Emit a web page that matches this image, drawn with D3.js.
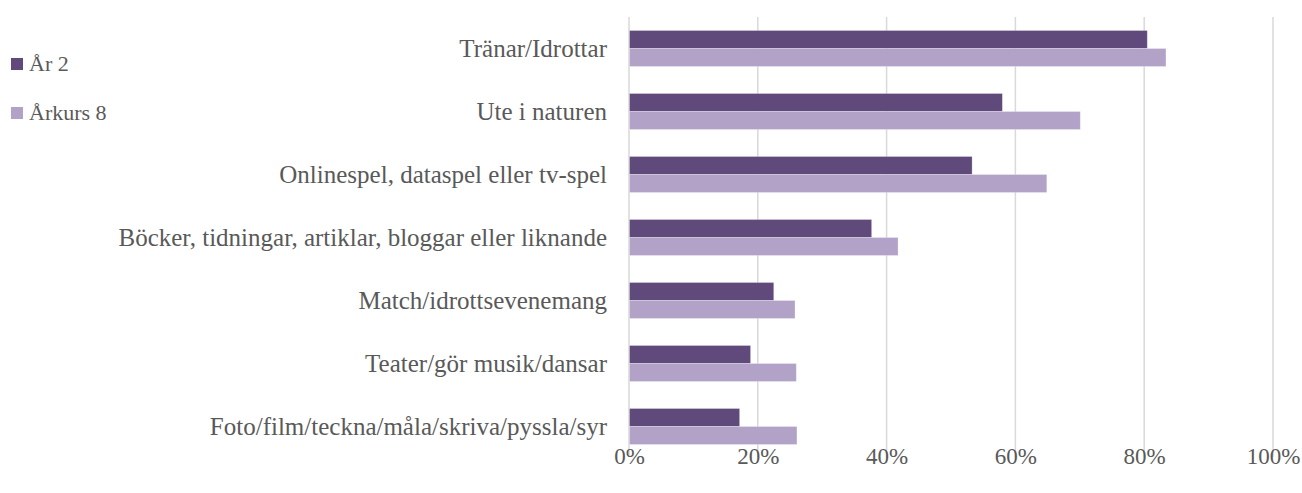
<!DOCTYPE html>
<html>
<head>
<meta charset="utf-8">
<script src="https://cdn.jsdelivr.net/npm/d3@7"></script>
<style>
  body { margin: 0; background: #fff; }
  svg text { font-family: "Liberation Serif", "Times New Roman", serif; fill: #595959; }
</style>
</head>
<body>
<svg id="chart" width="1302" height="493"></svg>
<script>
// data
const categories = [
  "Tränar/Idrottar",
  "Ute i naturen",
  "Onlinespel, dataspel eller tv-spel",
  "Böcker, tidningar, artiklar, bloggar eller liknande",
  "Match/idrottsevenemang",
  "Teater/gör musik/dansar",
  "Foto/film/teckna/måla/skriva/pyssla/syr "
];
const seriesNames = ["År 2", "Årkurs 8"];
const seriesColors = ["#604a7b", "#b3a2c7"];
const ar2 = [0.804, 0.579, 0.532, 0.376, 0.224, 0.188, 0.171];
const arkurs8 = [0.833, 0.700, 0.648, 0.417, 0.257, 0.259, 0.260];
const xTicks = [0, 0.2, 0.4, 0.6, 0.8, 1.0];

const svg = d3.select('#chart');

// scales
const x = d3.scaleLinear().domain([0, 1]).range([629, 1273]);
const y = d3.scaleBand().domain(categories).range([17, 458]).paddingInner(0).paddingOuter(0);
const barH = 18;

// gridlines
svg.append('g').selectAll('line').data(xTicks).enter().append('line')
  .attr('x1', d => x(d)).attr('x2', d => x(d))
  .attr('y1', 17).attr('y2', 457)
  .style('stroke', '#d9d9d9')
  .attr('stroke-width', 1.5);

// bars
const rows = categories.map((c, i) => ({ cat: c, vals: [ar2[i], arkurs8[i]] }));
const groups = svg.append('g').selectAll('g').data(rows).enter().append('g')
  .attr('transform', d => `translate(0,${y(d.cat) + y.bandwidth() / 2 - barH})`);

groups.selectAll('rect').data(d => d.vals).enter().append('rect')
  .attr('x', x(0) + 0.5)
  .attr('y', (d, i) => i * barH)
  .attr('width', d => x(d) - x(0))
  .attr('height', barH)
  .style('fill', (d, i) => seriesColors[i])
  .style('stroke', '#ffffff')
  .style('stroke-opacity', 0.35)
  .attr('stroke-width', 0.75);

// category labels
const yAxis = d3.axisLeft(y).tickSize(0).tickPadding(22);
const ya = svg.append('g').attr('transform', `translate(${x(0)},0)`).call(yAxis);
ya.select('.domain').remove();
ya.selectAll('text')
  .attr('dy', '0.32em')
  .style('font-size', '25px')
  .style('font-family', '"Liberation Serif", serif')
  .attr('fill', '#595959');

// x axis labels
const xAxis = d3.axisBottom(x).tickValues(xTicks).tickFormat(d3.format('.0%')).tickSize(0).tickPadding(0);
const xa = svg.append('g').attr('transform', 'translate(0,448)').call(xAxis);
xa.select('.domain').remove();
xa.selectAll('text')
  .attr('dy', '0.71em')
  .style('font-size', '23px')
  .style('font-family', '"Liberation Serif", serif')
  .attr('fill', '#595959');

// legend
const legend = svg.append('g').selectAll('g').data(seriesNames).enter().append('g')
  .attr('transform', (d, i) => `translate(11,${58 + i * 49})`);
legend.append('rect')
  .attr('width', 12).attr('height', 12)
  .style('fill', (d, i) => seriesColors[i]);
legend.append('text')
  .attr('x', 18).attr('y', 13)
  .style('font-size', '22px')
  .text(d => d);
</script>
</body>
</html>
